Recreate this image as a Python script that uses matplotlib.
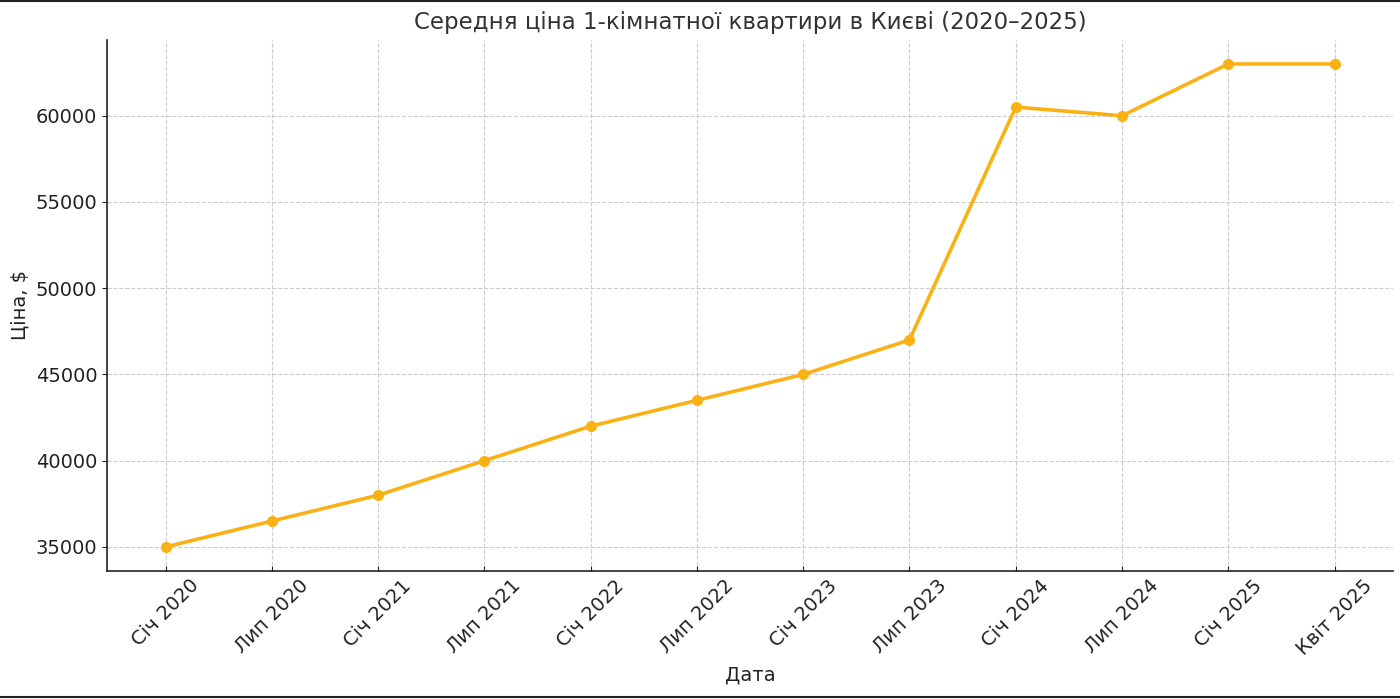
import matplotlib.pyplot as plt
from matplotlib.lines import Line2D

# Average price of a 1-room flat in Kyiv
dates = ["Січ 2020", "Лип 2020", "Січ 2021", "Лип 2021", "Січ 2022", "Лип 2022",
         "Січ 2023", "Лип 2023", "Січ 2024", "Лип 2024", "Січ 2025", "Квіт 2025"]
prices = [35000, 36500, 38000, 40000, 42000, 43500,
          45000, 47000, 60500, 60000, 63000, 63000]

plt.rcParams['font.family'] = ['DejaVu Sans']

fig, ax = plt.subplots(figsize=(14, 6.99), dpi=100)
fig.subplots_adjust(left=0.0765, right=0.995, top=0.943, bottom=0.183)

ax.plot(dates, prices, color='#F9B115', linewidth=2.6, marker='o', markersize=7)

ax.set_title("Середня ціна 1-кімнатної квартири в Києві (2020–2025)",
             fontsize=16.5, color='#333333', pad=8)
ax.set_xlabel("Дата", fontsize=14, color='#222222', labelpad=5)
ax.set_ylabel("Ціна, $", fontsize=14, color='#222222')

ax.grid(True, linestyle='--', color='#cccccc', linewidth=0.8)
ax.spines['top'].set_visible(False)
ax.spines['right'].set_visible(False)
for s in ('left', 'bottom'):
    ax.spines[s].set_color('#222222')
    ax.spines[s].set_linewidth(1.2)

ax.tick_params(axis='x', direction='in', labelsize=14, labelrotation=45, colors='#222222')
ax.tick_params(axis='y', labelsize=14, colors='#222222')

# thin frame lines at top and bottom of the image
fig.add_artist(Line2D([0, 1], [0.999, 0.999], transform=fig.transFigure, color='#222222', linewidth=1.5))
fig.add_artist(Line2D([0, 1], [0.003, 0.003], transform=fig.transFigure, color='#222222', linewidth=1.5))

fig.savefig("out.png", dpi=100)
